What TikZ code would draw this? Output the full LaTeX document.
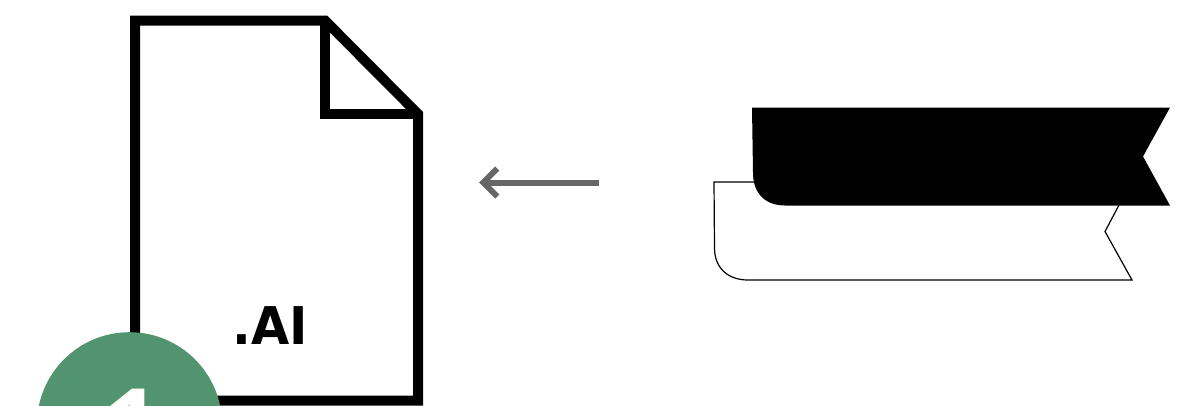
\documentclass[tikz,border=0pt]{standalone}
\usepackage{fontspec}
\setmainfont{DejaVu Sans}
\newfontfamily\badgefont{Open Sans}
\usetikzlibrary{arrows.meta}
\definecolor{badgegreen}{HTML}{52946F}
\definecolor{arrowgrey}{HTML}{666666}
\tikzset{
  docline/.style={draw=black,line width=10pt,miter limit=10},
  thinline/.style={draw=black,line width=1.2pt,fill=white},
  ribbonfill/.style={fill=black},
  flow/.style={draw=arrowgrey,line width=6pt,-{Straight Barb[length=14pt,width=28pt,line width=6pt]}}
}
\begin{document}
\begin{tikzpicture}[x=1pt,y=-1pt]
\useasboundingbox (0,0) rectangle (1193,405);
\clip (0,0) rectangle (1193,405);
\fill[white] (0,0) rectangle (1193,405);
% document
\draw[docline] (135,20.5) -- (325,20.5) -- (418,114) -- (418,400.5) -- (135,400.5) -- cycle;
\draw[docline] (325,20.5) -- (325,113.5) -- (418,113.5);
\node[anchor=base,font=\bfseries\fontsize{52}{52}\selectfont,inner sep=0pt,xscale=0.95] (ext) at (270,344) {.AI};
% badge
\node[circle,fill=badgegreen,minimum size=185.2pt,inner sep=0pt] (badge) at (129.5,424.8) {};
\node[anchor=base,text=white,inner sep=0pt,font=\badgefont\bfseries\fontsize{100}{100}\selectfont] (num) at (132,460) {1};
% arrow
\coordinate (arrowstart) at (599,182.5);
\coordinate (arrowend) at (479,182.5);
\draw[flow] (arrowstart) -- (arrowend);
% back ribbon
\draw[thinline] (754,182) -- (714,182) -- (714.5,248) .. controls (714.5,268) and (728,280) .. (748,280)
  -- (1132,280) -- (1105,231.5) -- (1119,205);
% front ribbon
\fill[ribbonfill] (752,107.5) -- (1170,107.5) -- (1143,156.5) -- (1170,205.5) -- (785,205.5)
  .. controls (765,205.5) and (753,193) .. (753,173) -- cycle;
\end{tikzpicture}
\end{document}
